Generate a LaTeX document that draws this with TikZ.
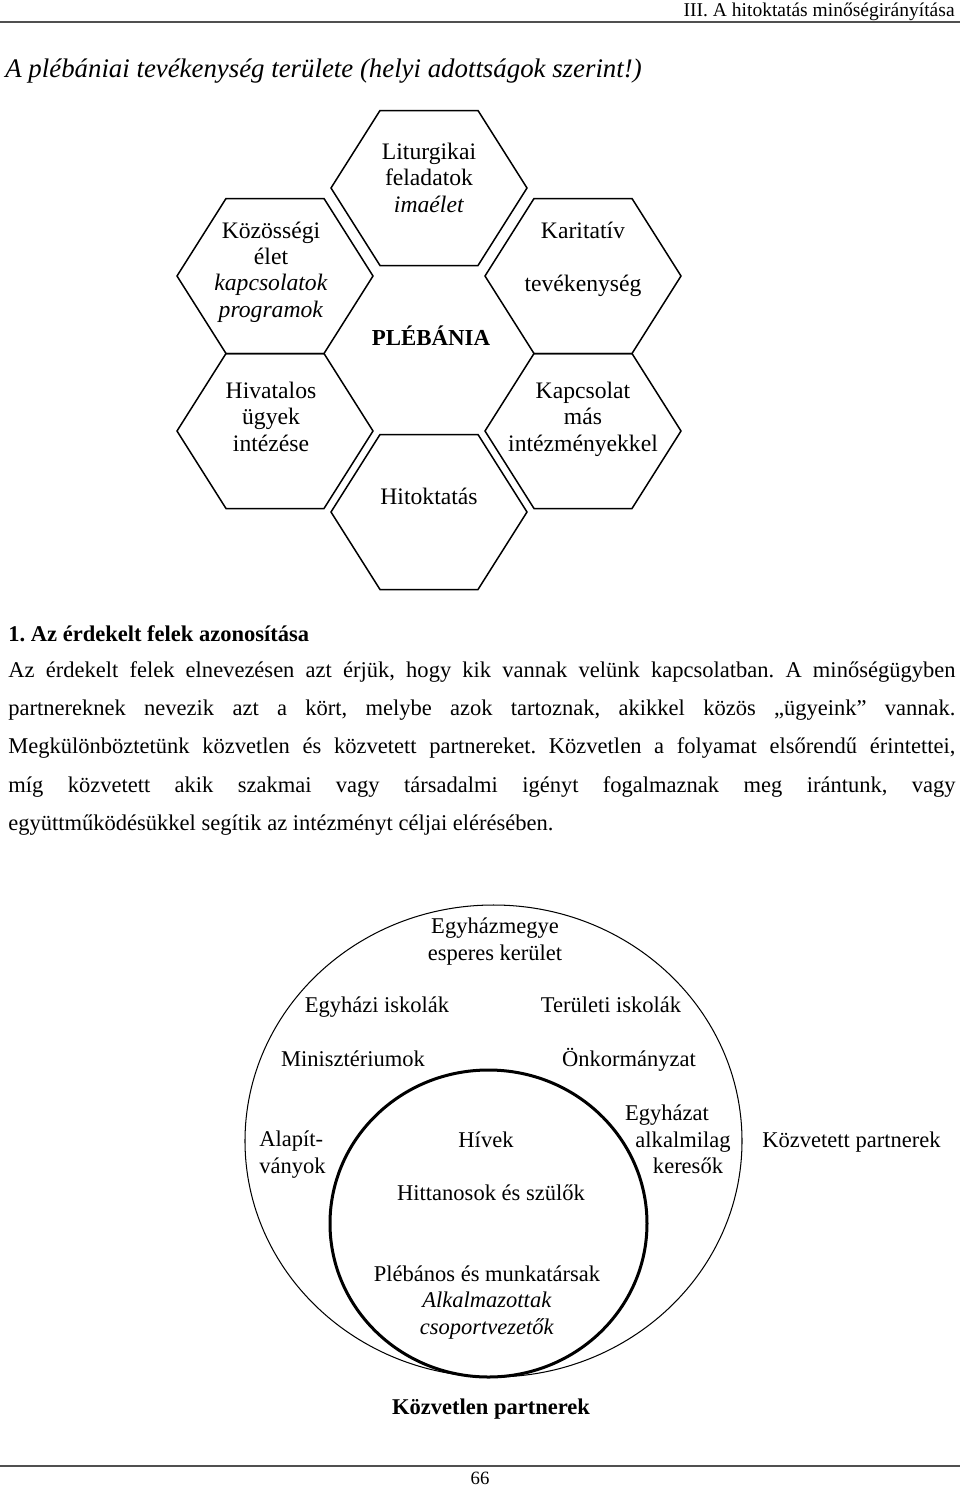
\documentclass[tikz,border=0pt]{standalone}
\usepackage{fontspec}
\setmainfont{Liberation Serif}
\usetikzlibrary{positioning}
\definecolor{rulegray}{HTML}{505050}
\newlength\bodywd
\setlength\bodywd{504.8pt}
\newcommand\bodyline[1]{\makebox[\bodywd][s]{#1}}
\frenchspacing

\begin{document}
\begin{tikzpicture}[x=0.533pt,y=-0.533pt,
txt/.style={inner sep=0pt,anchor=base,align=center,font=\fontsize{12}{14}\selectfont},
txtw/.style={txt,anchor=base west},
hextxt/.style={txt,font=\fontsize{12.6}{14}\selectfont},
hexline/.style={line width=0.8pt,line join=miter},
pagerule/.style={rulegray,line width=0.6pt}]
\useasboundingbox (0,0) rectangle (960,1488);
% page head
\node[txt,anchor=base east,font=\fontsize{10.4}{12}\selectfont] (runhead) at (955,16) {III. A hitoktatás minőségirányítása};
\draw[pagerule] (0,22)--(960,22);
\node[txtw,font=\fontsize{14.3}{16}\selectfont\itshape] (title) at (5,77) {A plébániai tevékenység területe (helyi adottságok szerint!)};
% honeycomb (multi-line labels sit on their last baseline)
\foreach \cx/\cy in {429/188,275/276,583/276,275/431,583/431,429/512}
  \draw[hexline] (\cx-98,\cy)--(\cx-49,\cy-77.5)--(\cx+49,\cy-77.5)--(\cx+98,\cy)--(\cx+49,\cy+77.5)--(\cx-49,\cy+77.5)--cycle;
\node[hextxt] (liturgia) at (429,212) {Liturgikai\\feladatok\\\textit{imaélet}};
\node[hextxt] (kozosseg) at (271,317) {Közösségi\\élet\\\textit{kapcsolatok}\\\textit{programok}};
\node[hextxt] (karitasz) at (583,291) {Karitatív\\[14pt]tevékenység};
\node[txt,font=\fontsize{12.2}{14}\selectfont\bfseries] (plebania) at (431,345) {PLÉBÁNIA};
\node[hextxt] (hivatal) at (271,451) {Hivatalos\\ügyek\\intézése};
\node[hextxt] (kapcsolat) at (583,451) {Kapcsolat\\más\\intézményekkel};
\node[hextxt] (hitoktatas) at (429,504) {Hitoktatás};
% section text
\node[txtw,font=\fontsize{12}{14}\selectfont\bfseries] (heading) at (8,641) {1. Az érdekelt felek azonosítása};
\node[txtw] (bodyA) at (8,677) {\bodyline{Az érdekelt felek elnevezésen azt érjük, hogy kik vannak velünk kapcsolatban. A minőségügyben}};
\node[txtw] (bodyB) at (8,715) {\bodyline{partnereknek nevezik azt a kört, melybe azok tartoznak, akikkel közös „ügyeink” vannak.}};
\node[txtw] (bodyC) at (8,753) {\bodyline{Megkülönböztetünk közvetlen és közvetett partnereket. Közvetlen a folyamat elsőrendű érintettei,}};
\node[txtw] (bodyD) at (8,792) {\bodyline{míg közvetett akik szakmai vagy társadalmi igényt fogalmaznak meg irántunk, vagy}};
\node[txtw] (bodyE) at (8,830) {együttműködésükkel segítik az intézményt céljai elérésében.};
% partner circles
\draw[line width=0.55pt] (493.5,1141) ellipse [x radius=248.5,y radius=236];
\draw[line width=1.6pt] (488.5,1223.5) ellipse [x radius=158.5,y radius=153.5];
\node[txt] (egyhazmegye) at (495,960) {Egyházmegye\\esperes kerület};
\node[txt] (egyhiskola) at (377,1012) {Egyházi iskolák};
\node[txt] (teriskola) at (611,1012) {Területi iskolák};
\node[txt] (miniszter) at (353,1066) {Minisztériumok};
\node[txt] (onkorm) at (629,1066) {Önkormányzat};
\node[txtw,align=left] (alapitv) at (259,1173) {Alapít-\\ványok};
\node[txt] (hivek) at (486,1147) {Hívek};
\node[txt] (egyhazatA) at (667,1120) {Egyházat};
\node[txt] (egyhazatB) at (683,1147) {alkalmilag};
\node[txt] (egyhazatC) at (688,1173) {keresők};
\node[txtw] (kozvetett) at (762,1147) {Közvetett partnerek};
\node[txt] (hittanos) at (491,1200) {Hittanosok és szülők};
\node[txt] (plebanos) at (487,1334) {Plébános és munkatársak\\\textit{Alkalmazottak}\\\textit{csoportvezetők}};
\node[txt,font=\fontsize{12}{14}\selectfont\bfseries] (kozvetlen) at (491,1414) {Közvetlen partnerek};
% page foot
\draw[pagerule] (0,1466)--(960,1466);
\node[txt,font=\fontsize{10}{12}\selectfont] (pageno) at (480,1484) {66};
\end{tikzpicture}
\end{document}
